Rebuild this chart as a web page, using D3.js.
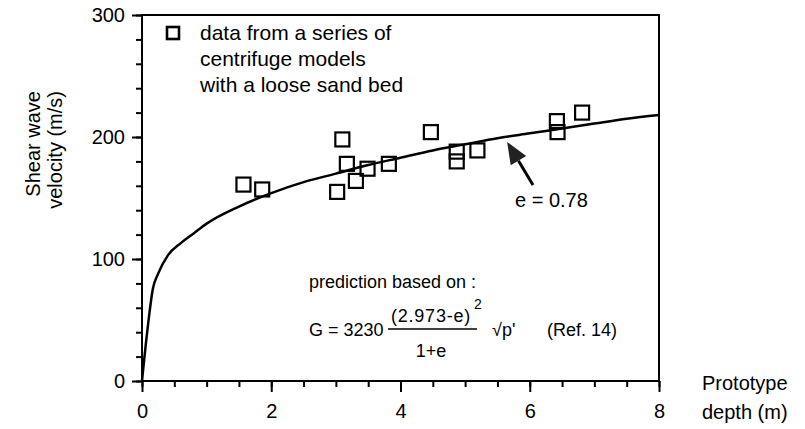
<!DOCTYPE html>
<html>
<head>
<meta charset="utf-8">
<script src="https://cdn.jsdelivr.net/npm/d3@7"></script>
<style>
  body { margin: 0; background: #fff; }
  svg { font-family: "Liberation Sans", Arial, sans-serif; }
</style>
</head>
<body>
<div id="chart"></div>
<script>
// measured squares (prototype depth in m, shear wave velocity in m/s)
var depth = [1.57, 1.86, 3.02, 3.10, 3.17, 3.31, 3.49, 3.82, 4.47, 4.87, 4.87, 5.19, 6.42, 6.43, 6.81];
var velocity = [161, 157, 155, 198, 178, 164, 174, 178, 204, 188, 180, 189, 213, 204, 220];

// prediction curve, e = 0.78
var curveDepth = [0, 0.08, 0.17, 0.25, 0.4, 0.6, 0.8, 1, 1.5, 2, 2.5, 3, 3.5, 4, 4.5, 5, 5.5, 6, 6.5, 7, 7.5, 8];
var curveVel = [0, 40, 76, 88, 103, 113, 121, 129, 143, 154, 163, 170, 177, 183, 189, 194, 199, 203, 207, 211, 215, 218];

var xTicks = [0, 2, 4, 6, 8];
var yTicks = [0, 100, 200, 300];
var legendLines = ["data from a series of", "centrifuge models", "with a loose sand bed"];

var width = 805, height = 429;
var ink = "#000";
var x = d3.scaleLinear().domain([0, 8]).range([142, 659]);
var y = d3.scaleLinear().domain([0, 300]).range([381, 15]);

var svg = d3.select("#chart").append("svg")
    .attr("width", width)
    .attr("height", height);

// minor ticks
svg.append("g")
    .attr("transform", "translate(0," + y(0) + ")")
    .call(d3.axisBottom(x).tickValues(d3.range(0, 8.01, 0.5)).tickSize(6).tickFormat(""))
    .call(g => g.select(".domain").remove())
    .call(g => g.selectAll("line").attr("stroke-width", 2));
svg.append("g")
    .attr("transform", "translate(" + x(0) + ",0)")
    .call(d3.axisLeft(y).tickValues(d3.range(0, 301, 20)).tickSize(6).tickFormat(""))
    .call(g => g.select(".domain").remove())
    .call(g => g.selectAll("line").attr("stroke-width", 2));

// major ticks with labels
svg.append("g")
    .attr("transform", "translate(0," + y(0) + ")")
    .call(d3.axisBottom(x).tickValues(xTicks).tickSize(11).tickPadding(12))
    .call(g => g.select(".domain").remove())
    .call(g => g.selectAll("line").attr("stroke-width", 2))
    .call(g => g.selectAll("text").attr("font-size", 20).attr("fill", ink));
svg.append("g")
    .attr("transform", "translate(" + x(0) + ",0)")
    .call(d3.axisLeft(y).tickValues(yTicks).tickSize(10).tickPadding(7))
    .call(g => g.select(".domain").remove())
    .call(g => g.selectAll("line").attr("stroke-width", 2))
    .call(g => g.selectAll("text").attr("font-size", 20).attr("fill", ink));

// frame
svg.append("rect")
    .attr("x", x(0)).attr("y", y(300))
    .attr("width", x(8) - x(0)).attr("height", y(0) - y(300))
    .attr("fill", "none").attr("stroke", ink).attr("stroke-width", 2);

// axis titles
var yt = svg.append("text")
    .attr("transform", "translate(0,91) rotate(-90)")
    .attr("text-anchor", "end")
    .attr("font-size", 20).attr("fill", ink);
yt.append("tspan").attr("x", 0).attr("y", 40).text("Shear wave");
yt.append("tspan").attr("x", 0).attr("y", 62).text("velocity (m/s)");

svg.append("text").attr("x", 702).attr("y", 390)
    .attr("font-size", 20).attr("fill", ink).text("Prototype");
svg.append("text").attr("x", 702).attr("y", 419)
    .attr("font-size", 20).attr("fill", ink).text("depth (m)");

// prediction curve
var line = d3.line()
    .x((d, i) => x(curveDepth[i]))
    .y((d, i) => y(curveVel[i]))
    .curve(d3.curveMonotoneX);
svg.append("path")
    .datum(curveVel)
    .attr("d", line)
    .attr("fill", "none").attr("stroke", ink).attr("stroke-width", 2.5);

// data squares
var sq = 14;
svg.selectAll("rect.pt")
    .data(depth)
    .enter()
    .append("rect")
    .attr("class", "pt")
    .attr("x", (d, i) => x(d) - sq / 2)
    .attr("y", (d, i) => y(velocity[i]) - sq / 2)
    .attr("width", sq).attr("height", sq)
    .attr("fill", "none").attr("stroke", ink).attr("stroke-width", 2.2);

// legend
svg.append("rect")
    .attr("x", 167).attr("y", 27).attr("width", 12).attr("height", 12)
    .attr("fill", "none").attr("stroke", ink).attr("stroke-width", 2.6);
svg.append("g").selectAll("text")
    .data(legendLines)
    .enter()
    .append("text")
    .attr("x", 200)
    .attr("y", (d, i) => 40 + i * 26)
    .attr("font-size", 21).attr("fill", ink)
    .text(d => d);

// arrow e = 0.78
var tail = [x(6.05), y(160.7)], tip = [x(5.65), y(196)];
var ang = Math.atan2(tip[1] - tail[1], tip[0] - tail[0]);
var hl = 22, hw = 9;
var bx = tip[0] - hl * Math.cos(ang), by = tip[1] - hl * Math.sin(ang);
svg.append("line")
    .attr("x1", tail[0]).attr("y1", tail[1])
    .attr("x2", bx).attr("y2", by)
    .attr("stroke", ink).attr("stroke-width", 3);
svg.append("path")
    .attr("d", "M" + tip[0] + "," + tip[1] +
        "L" + (bx + hw * Math.sin(ang)) + "," + (by - hw * Math.cos(ang)) +
        "L" + (bx - hw * Math.sin(ang)) + "," + (by + hw * Math.cos(ang)) + "Z")
    .attr("fill", "#222");
svg.append("text").attr("x", 515).attr("y", 207)
    .attr("font-size", 20).attr("fill", ink).text("e = 0.78");

// formula
var f = svg.append("g").attr("fill", ink).attr("font-size", 18);
f.append("text").attr("x", 309).attr("y", 288).text("prediction based on :");
f.append("text").attr("x", 309).attr("y", 336).text("G = 3230");
f.append("text").attr("x", 431).attr("y", 322).attr("text-anchor", "middle")
    .attr("letter-spacing", 0.8).text("(2.973-e)");
f.append("text").attr("x", 474).attr("y", 309).attr("font-size", 14).text("2");
f.append("line").attr("x1", 388).attr("x2", 477).attr("y1", 329).attr("y2", 329)
    .attr("stroke", ink).attr("stroke-width", 1.5);
f.append("text").attr("x", 431).attr("y", 357).attr("text-anchor", "middle").text("1+e");
f.append("text").attr("x", 492).attr("y", 336).text("\u221Ap'");
f.append("text").attr("x", 547).attr("y", 336).text("(Ref. 14)");
</script>
</body>
</html>
